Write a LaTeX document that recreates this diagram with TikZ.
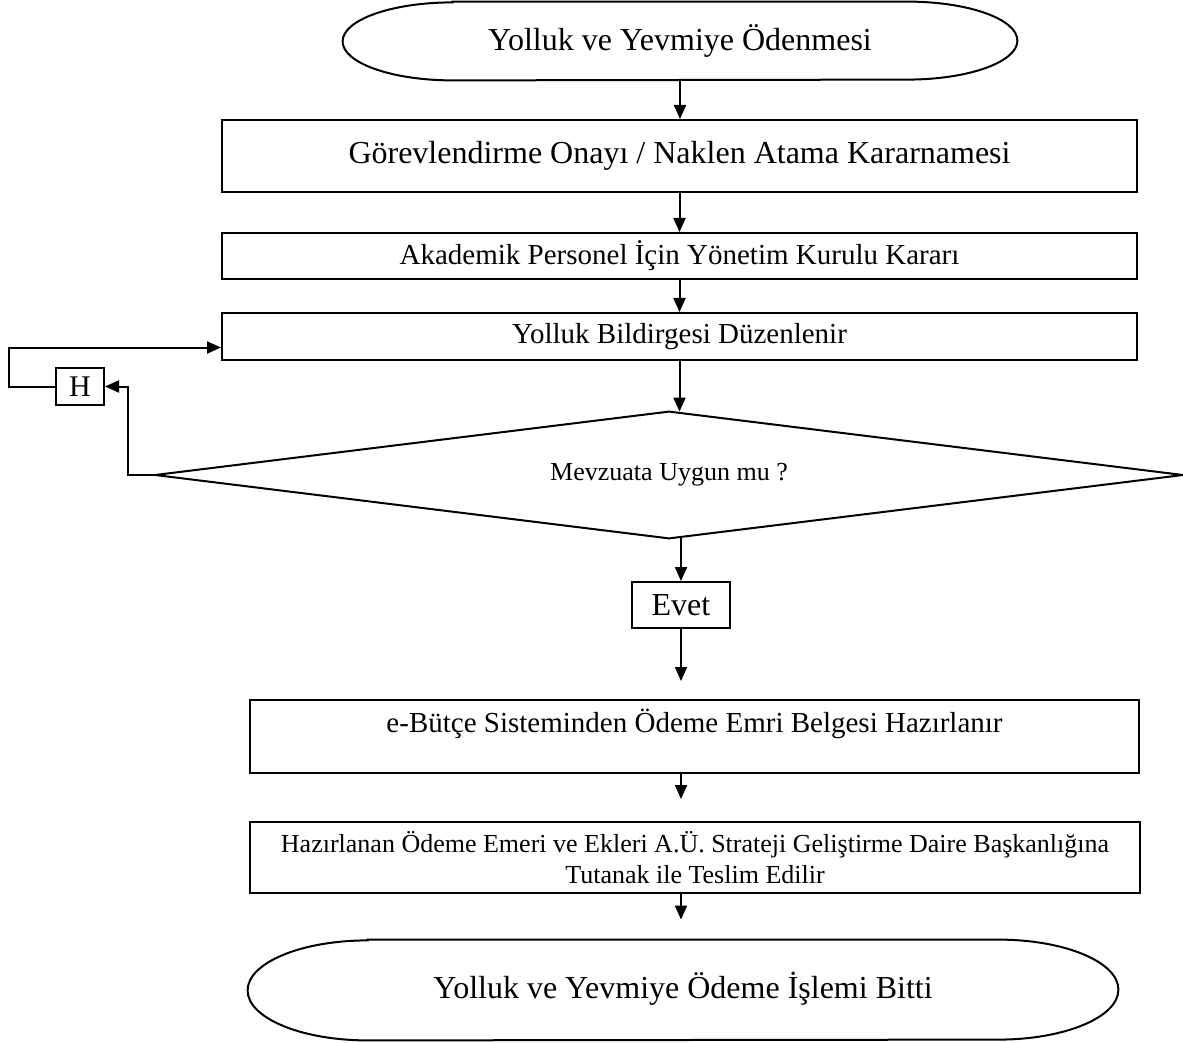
\documentclass[tikz,border=0pt]{standalone}
\usepackage{fontspec}
\setmainfont{Liberation Serif}
\usetikzlibrary{arrows.meta}
\tikzset{
  box/.style={draw, line width=1pt, rectangle, inner sep=0pt, align=center},
  term/.style={draw=none, rectangle, inner sep=0pt, align=center},
  arr/.style={line width=1pt, -{Triangle[length=7pt,width=6pt]}},
  fbig/.style={font=\fontsize{16}{19}\selectfont},
  fmid/.style={font=\fontsize{14.5}{15.5}\selectfont},
  fsmall/.style={font=\fontsize{13}{15.5}\selectfont}
}
\newcommand{\termpath}[3]{%
  \draw[line width=1pt] ([xshift=#2]#1.north west) -- ([xshift=-#2]#1.north east)
    arc[start angle=90, end angle=-90, x radius=#2, y radius=#3]
    -- ([xshift=#2]#1.south west)
    arc[start angle=270, end angle=90, x radius=#2, y radius=#3] -- cycle;}
\begin{document}
\begin{tikzpicture}[x=0.5pt,y=-0.5pt]
\fill[white] (0,0) rectangle (1183,1043);
\useasboundingbox (0,0) rectangle (1183,1043);

\node[term, fbig, minimum width=337pt, minimum height=39pt] (top) at (680,41) {Yolluk ve Yevmiye Ödenmesi};
\termpath{top}{55pt}{19.5pt}

\node[box, fbig, minimum width=457.5pt, minimum height=36pt] (b1) at (679.5,156) {\raisebox{-2pt}{Görevlendirme Onayı / Naklen Atama Kararnamesi}};
\node[box, fmid, minimum width=457.5pt, minimum height=23pt] (b2) at (679.5,256) {Akademik Personel İçin Yönetim Kurulu Kararı};
\node[box, fmid, minimum width=457.5pt, minimum height=23.5pt] (b3) at (679.5,336.5) {\raisebox{-2pt}{Yolluk Bildirgesi Düzenlenir}};
\node[term, fsmall, minimum width=513.5pt, minimum height=63pt] (d) at (669,475) {\raisebox{-2.5pt}{Mevzuata Uygun mu ?}};
\draw[line width=1pt] (d.north) -- (d.east) -- (d.south) -- (d.west) -- cycle;
\node[box, font=\fontsize{15}{17}\selectfont, minimum width=24pt, minimum height=18.5pt] (h) at (80,386.5) {H};
\node[box, fbig, minimum width=49pt, minimum height=23pt] (ev) at (681,605) {Evet};
\node[box, fmid, minimum width=444.5pt, minimum height=36.5pt] (b4) at (694.5,736.5) {e-Bütçe Sisteminden Ödeme Emri Belgesi Hazırlanır\\ ~};
\node[box, fsmall, minimum width=445pt, minimum height=35.5pt] (b5) at (695,857.5) {Hazırlanan Ödeme Emeri ve Ekleri A.Ü. Strateji Geliştirme Daire Başkanlığına\\Tutanak ile Teslim Edilir};
\node[term, fbig, minimum width=435pt, minimum height=50pt] (bot) at (683,990) {\raisebox{5pt}{Yolluk ve Yevmiye Ödeme İşlemi Bitti}};
\termpath{bot}{60pt}{25pt}

\draw[arr] (top.south) -- (top.south |- b1.north);
\draw[arr] (b1.south) -- (b2.north);
\draw[arr] (b2.south) -- (b3.north);
\draw[arr] (b3.south) -- (b3.south |- d.north);
\draw[arr] (d.west) -- ++(-27,0) |- (h.east);
\draw[arr] (h.west) -- ++(-46,0) |- ([yshift=-5.5pt]b3.west);
\draw[arr] (ev.north |- d.south) -- (ev.north);
\draw[arr, shorten >=9pt] (ev.south) -- (ev.south |- b4.north);
\draw[arr, shorten >=11pt] (b4.south -| ev) -- (b5.north -| ev);
\draw[arr, shorten >=10pt] (b5.south -| ev) -- (bot.north -| ev);
\end{tikzpicture}
\end{document}
